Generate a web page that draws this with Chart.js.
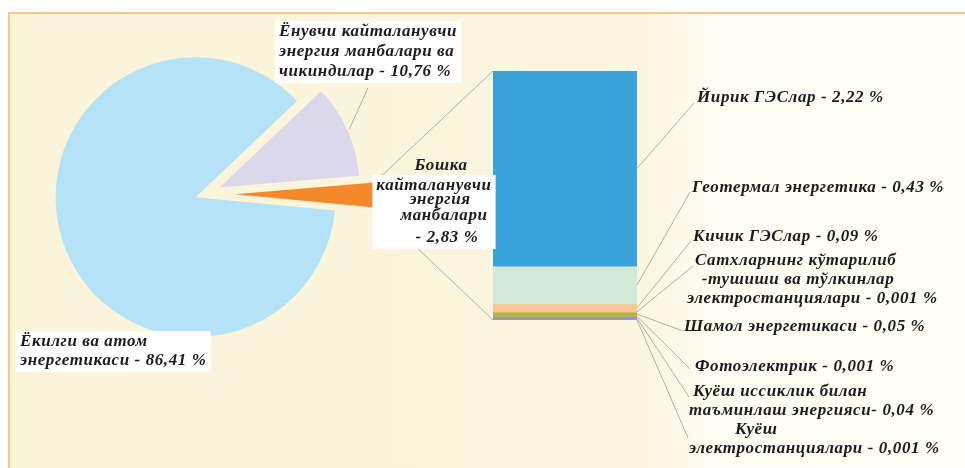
<!DOCTYPE html>
<html>
<head>
<meta charset="utf-8">
<script src="https://cdn.jsdelivr.net/npm/chart.js@4.4.0/dist/chart.umd.min.js"></script>
<style>
  html, body { margin: 0; padding: 0; background: #fff; }
  #wrap { position: relative; width: 965px; height: 468px; overflow: hidden; }
  #frame { position: absolute; left: 8px; top: 12px; right: -4px; bottom: -4px;
           border-left: 2px solid #f8c692; border-top: 2px solid #f8c692;
           background: linear-gradient(90deg, #fbf4d9 0%, #fcf6df 66%, #fffdf3 74%, #fffdf4 100%); }
  canvas { position: absolute; left: 0; top: 0; }
</style>
</head>
<body>
<div id="wrap">
  <div id="frame"></div>
  <canvas id="pieChart" width="965" height="468"></canvas>
  <canvas id="barChart" width="965" height="468"></canvas>
</div>
<script>
// main shares (pie)
const pieLabels = ['Ёнувчи кайталанувчи энергия манбалари ва чикиндилар', 'Бошка кайталанувчи энергия манбалари', 'Ёкилги ва атом энергетикаси'];
const pieValues = [10.76, 2.83, 86.41];
const pieColors = ['#dcd8ec', '#f5882a', '#b4e3f8'];

// breakdown of "other renewables" (stacked bar)
const barLabels = ['Йирик ГЭСлар', 'Геотермал энергетика', 'Кичик ГЭСлар',
  'Сатхларнинг кўтарилиб-тушиши ва тўлкинлар электростанциялари', 'Шамол энергетикаси',
  'Фотоэлектрик', 'Куёш иссиклик билан таъминлаш энергияси', 'Куёш электростанциялари'];
const barValues = [2.22, 0.43, 0.09, 0.001, 0.05, 0.001, 0.04, 0.001];
const barColors = ['#3aa3dc', '#d5e9d7', '#fbc594', '#e3c27a', '#b6b44c', '#e79a5c', '#9a95c9', '#6f9fd6'];

const fmt = v => String(v).replace('.', ',');

// label text, {v} is replaced by the value
const pieText = [
  ['Ёнувчи кайталанувчи', 'энергия манбалари ва', 'чикиндилар - {v} %'],
  ['Бошка', 'кайталанувчи', 'энергия', 'манбалари', '- {v} %'],
  ['Ёкилги ва атом', 'энергетикаси - {v} %']
];
const barText = [
  ['Йирик ГЭСлар - {v} %'],
  ['Геотермал энергетика - {v} %'],
  ['Кичик ГЭСлар - {v} %'],
  ['Сатхларнинг кўтарилиб', ' -тушиши ва тўлкинлар', 'электростанциялари - {v} %'],
  ['Шамол энергетикаси - {v} %'],
  ['Фотоэлектрик - {v} %'],
  ['Куёш иссиклик билан', 'таъминлаш энергияси- {v} %'],
  ['Куёш', 'электростанциялари - {v} %']
];

// layout
const pieExplode = [16, 30, 10];
const pieTextPos = [
  { align: 'left', box: 0, pts: [[279, 32], [279, 52], [279, 72]] },
  { align: 'center', box: 1, pts: [[441, 166], [434, 186], [440, 200], [444, 216], [447, 238]] },
  { align: 'left', box: 0, pts: [[20, 342], [20, 361]] }
];
const barTextPos = [
  { pts: [[697, 98]], anchor: [694, 103] },
  { pts: [[692, 188]], anchor: [690, 192] },
  { pts: [[693, 237]], anchor: [691, 241] },
  { pts: [[695, 261], [697, 280], [687, 299]], anchor: [693, 266] },
  { pts: [[684, 327]], anchor: [683, 331] },
  { pts: [[695, 367]], anchor: [690, 369] },
  { pts: [[693, 392], [689, 411]], anchor: [689, 397] },
  { pts: [[735, 430], [689, 449]], anchor: [688, 438] }
];
const FONT = 'bold italic 17px "Liberation Serif"';
const LINE = '#b3b0a4';

const barTotal = barValues.reduce((a, b) => a + b, 0);

// pull slices out of the centre without growing them
const explodePlugin = {
  id: 'explode',
  afterDatasetsUpdate(chart) {
    chart.getDatasetMeta(0).data.forEach((arc, i) => {
      const mid = (arc.startAngle + arc.endAngle) / 2;
      arc.x += Math.cos(mid) * pieExplode[i];
      arc.y += Math.sin(mid) * pieExplode[i];
    });
  }
};

const pieChart = new Chart(document.getElementById('pieChart'), {
  type: 'pie',
  data: {
    labels: pieLabels,
    datasets: [{ data: pieValues, backgroundColor: pieColors, borderWidth: 0 }]
  },
  options: {
    responsive: false,
    animation: false,
    rotation: 46.5,
    radius: 140,
    layout: { padding: { left: 5, right: 560, top: 44, bottom: 124 } },
    plugins: { legend: { display: false }, tooltip: { enabled: false } }
  },
  plugins: [explodePlugin]
});

function drawText(ctx, lines, pos) {
  ctx.font = FONT;
  ctx.letterSpacing = '0.6px';
  ctx.textBaseline = 'middle';
  ctx.textAlign = pos.align || 'left';
  if (pos.box !== undefined) {
    let x0 = Infinity, x1 = -Infinity;
    for (let k = pos.box; k < lines.length; k++) {
      const w = ctx.measureText(lines[k]).width;
      const x = pos.pts[k][0];
      const l = pos.align === 'center' ? x - w / 2 : x;
      x0 = Math.min(x0, l); x1 = Math.max(x1, l + w);
    }
    const y0 = pos.pts[pos.box][1] - 11, y1 = pos.pts[lines.length - 1][1] + 11;
    ctx.fillStyle = '#ffffff';
    ctx.fillRect(x0 - 4, y0, x1 - x0 + 8, y1 - y0);
  }
  ctx.fillStyle = '#1c1c1c';
  lines.forEach((t, k) => ctx.fillText(t, pos.pts[k][0], pos.pts[k][1]));
}

const labelPlugin = {
  id: 'labels',
  afterDatasetsDraw(chart) {
    const ctx = chart.ctx;
    const arcs = pieChart.getDatasetMeta(0).data;
    const yScale = chart.scales.y;
    const bar0 = chart.getDatasetMeta(0).data[0];
    const barLeft = bar0.x - bar0.width / 2;
    const barRight = bar0.x + bar0.width / 2;
    ctx.save();
    ctx.strokeStyle = LINE;
    ctx.lineWidth = 1;

    // connectors from the small slice to the bar
    const o = arcs[1];
    const r = o.outerRadius;
    [[o.startAngle, 0], [o.endAngle, barTotal]].forEach(([a, v]) => {
      ctx.beginPath();
      ctx.moveTo(o.x + Math.cos(a) * r, o.y + Math.sin(a) * r);
      ctx.lineTo(barLeft, yScale.getPixelForValue(v));
      ctx.stroke();
    });

    // leader for the lavender slice
    const lv = arcs[0];
    const mid = (lv.startAngle + lv.endAngle) / 2;
    ctx.beginPath();
    ctx.moveTo(lv.x + Math.cos(mid) * (r + 2), lv.y + Math.sin(mid) * (r + 2));
    ctx.lineTo(368, 88);
    ctx.stroke();

    // leaders for the bar segments
    barValues.forEach((v, i) => {
      const el = chart.getDatasetMeta(i).data[0];
      const ym = (el.y + el.base) / 2;
      ctx.beginPath();
      ctx.moveTo(barRight, ym);
      ctx.lineTo(barTextPos[i].anchor[0], barTextPos[i].anchor[1]);
      ctx.stroke();
    });

    pieText.forEach((lines, i) => drawText(ctx, lines.map(t => t.replace('{v}', fmt(pieValues[i]))), pieTextPos[i]));
    barText.forEach((lines, i) => drawText(ctx, lines.map(t => t.replace('{v}', fmt(barValues[i]))), barTextPos[i]));
    ctx.restore();
  }
};

const barChart = new Chart(document.getElementById('barChart'), {
  type: 'bar',
  data: {
    labels: [''],
    datasets: barValues.map((v, i) => ({
      label: barLabels[i],
      data: [v],
      backgroundColor: barColors[i],
      borderWidth: 0,
      categoryPercentage: 1,
      barPercentage: 1
    }))
  },
  options: {
    responsive: false,
    animation: false,
    layout: { padding: { left: 493, right: 328, top: 71, bottom: 148 } },
    scales: {
      x: { display: false, stacked: true },
      y: { display: false, stacked: true, reverse: true, min: 0, max: barTotal }
    },
    plugins: { legend: { display: false }, tooltip: { enabled: false } }
  },
  plugins: [labelPlugin]
});
</script>
</body>
</html>
